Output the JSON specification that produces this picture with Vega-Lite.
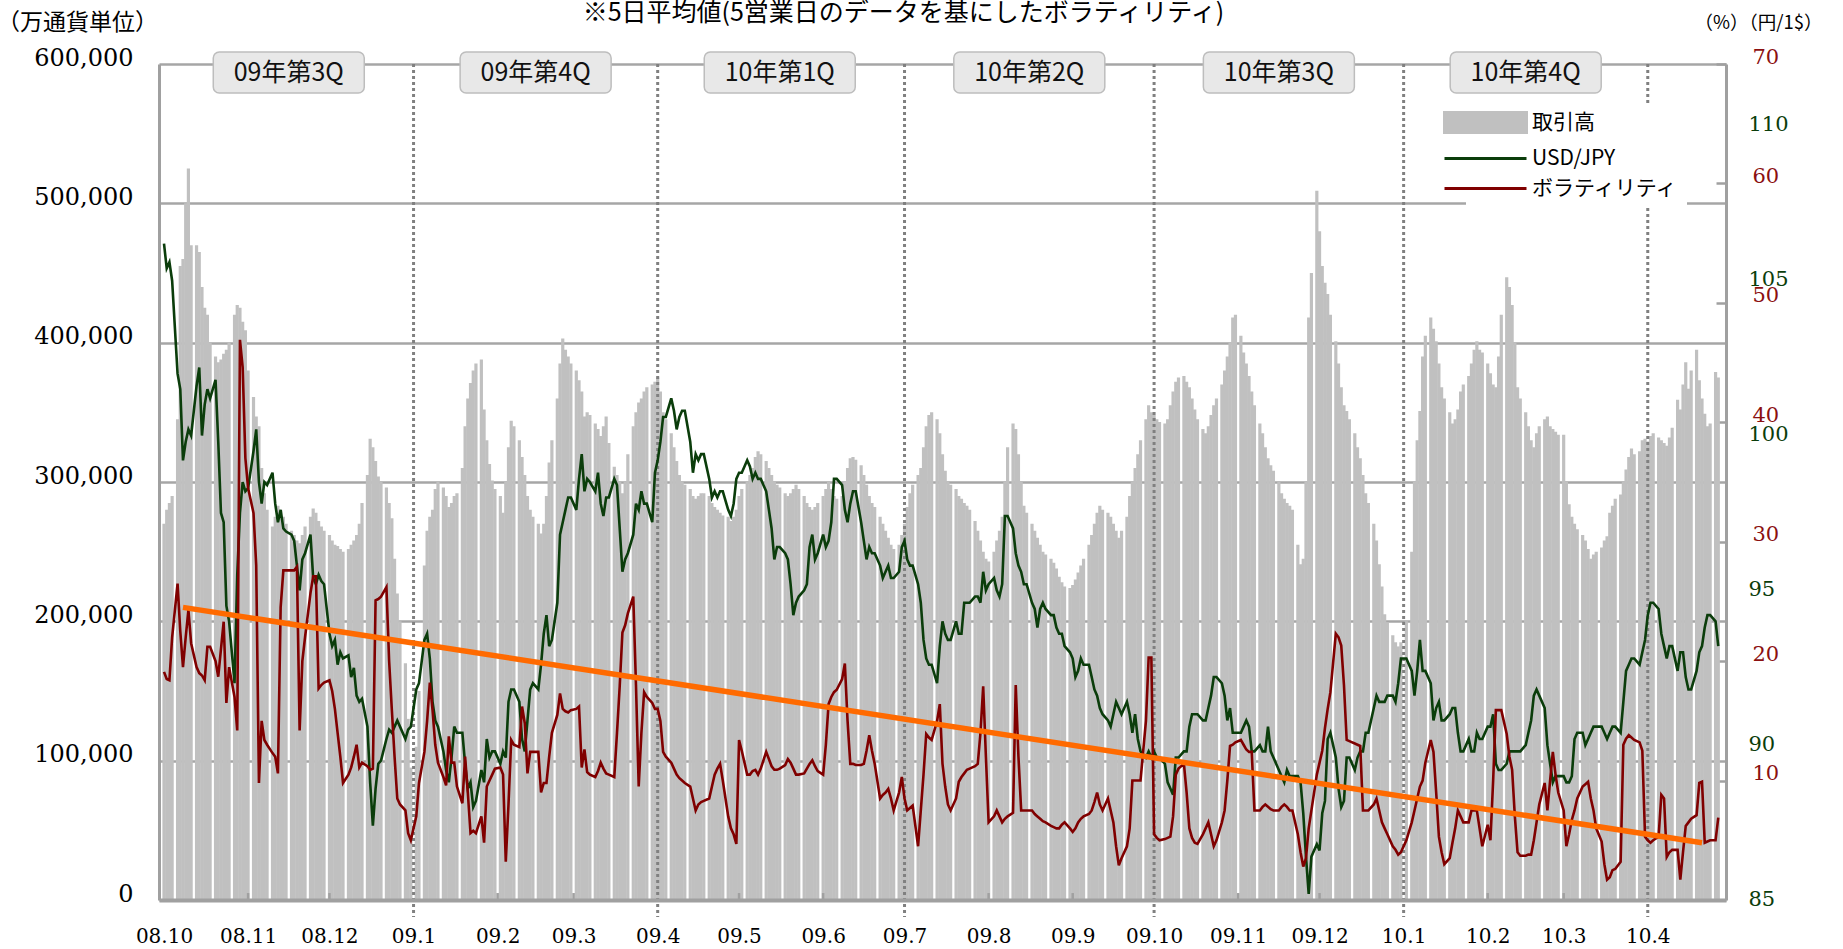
{
"$schema": "https://vega.github.io/schema/vega-lite/v6.json",
"width": 1567, "height": 836,
"autosize": {"type": "none"},
"padding": {"left": 159, "top": 64, "right": 117, "bottom": 49},
"background": "white",
"title": {"text": "※5日平均値(5営業日のデータを基にしたボラティリティ)", "anchor": "middle", "frame": "group", "offset": -15, "dx": -39, "font": "Noto Sans CJK JP", "fontSize": 25, "fontWeight": "normal", "color": "#000000"},
"config": {"view": {"stroke": null}},
"datasets": {
"quarters": [
{"q":"09年第3Q","m":"2008-11-16"},{"q":"09年第4Q","m":"2009-02-15"},{"q":"10年第1Q","m":"2009-05-16"},{"q":"10年第2Q","m":"2009-08-16"},{"q":"10年第3Q","m":"2009-11-16"},{"q":"10年第4Q","m":"2010-02-15"}],
"qlines": [{"d":"2009-01-01"},{"d":"2009-04-01"},{"d":"2009-07-01"},{"d":"2009-10-01"},{"d":"2010-01-01"},{"d":"2010-04-01"}],
"mticks": [{"d":"2008-11-01"},{"d":"2008-12-01"},{"d":"2009-02-01"},{"d":"2009-03-01"},{"d":"2009-05-01"},{"d":"2009-06-01"},{"d":"2009-08-01"},{"d":"2009-09-01"},{"d":"2009-11-01"},{"d":"2009-12-01"},{"d":"2010-02-01"},{"d":"2010-03-01"}],
"trend": [{"d":"2008-10-08","r":24.5},{"d":"2010-04-21","r":4.8}],
"main": [
{"d":"2008-10-01","v":270000,"u":106.2,"r":19.1},
{"d":"2008-10-02","v":280000,"u":105.4,"r":18.5},
{"d":"2008-10-03","v":285000,"u":105.6,"r":18.4},
{"d":"2008-10-04","v":290000,"u":105.0,"r":22.0},
{"d":"2008-10-06","v":345000,"u":102.0,"r":26.5},
{"d":"2008-10-07","v":455000,"u":101.5,"r":22.5},
{"d":"2008-10-08","v":460000,"u":99.2,"r":19.5},
{"d":"2008-10-09","v":500000,"u":99.8,"r":22.0},
{"d":"2008-10-10","v":525000,"u":100.2,"r":24.3},
{"d":"2008-10-11","v":470000,"u":100.0,"r":21.5},
{"d":"2008-10-13","v":470000,"u":101.6,"r":19.5},
{"d":"2008-10-14","v":465000,"u":102.2,"r":19.0},
{"d":"2008-10-15","v":440000,"u":100.0,"r":18.8},
{"d":"2008-10-16","v":425000,"u":101.0,"r":18.4},
{"d":"2008-10-17","v":420000,"u":101.5,"r":21.2},
{"d":"2008-10-18","v":400000,"u":101.2,"r":21.2},
{"d":"2008-10-20","v":390000,"u":101.8,"r":20.0},
{"d":"2008-10-21","v":386000,"u":99.8,"r":18.7},
{"d":"2008-10-22","v":388000,"u":97.5,"r":21.0},
{"d":"2008-10-23","v":392000,"u":97.2,"r":23.3},
{"d":"2008-10-24","v":395000,"u":94.5,"r":16.5},
{"d":"2008-10-25","v":400000,"u":94.0,"r":19.5},
{"d":"2008-10-27","v":420000,"u":92.0,"r":17.0},
{"d":"2008-10-28","v":427000,"u":95.5,"r":14.2},
{"d":"2008-10-29","v":425000,"u":97.5,"r":46.9},
{"d":"2008-10-30","v":415000,"u":98.5,"r":44.6},
{"d":"2008-10-31","v":409000,"u":98.2,"r":37.0},
{"d":"2008-11-01","v":380000,"u":98.3,"r":34.5},
{"d":"2008-11-03","v":361000,"u":99.5,"r":32.4},
{"d":"2008-11-04","v":347000,"u":100.2,"r":28.0},
{"d":"2008-11-05","v":340000,"u":98.5,"r":9.8},
{"d":"2008-11-06","v":310000,"u":97.8,"r":15.0},
{"d":"2008-11-07","v":292000,"u":98.5,"r":13.4},
{"d":"2008-11-08","v":280000,"u":98.4,"r":13.0},
{"d":"2008-11-10","v":268000,"u":98.8,"r":12.3},
{"d":"2008-11-11","v":275000,"u":97.8,"r":12.0},
{"d":"2008-11-12","v":283000,"u":97.2,"r":10.6},
{"d":"2008-11-13","v":280000,"u":97.6,"r":24.5},
{"d":"2008-11-14","v":275000,"u":97.0,"r":27.6},
{"d":"2008-11-15","v":270000,"u":96.9,"r":27.6},
{"d":"2008-11-17","v":265000,"u":96.8,"r":27.6},
{"d":"2008-11-18","v":262000,"u":96.6,"r":27.6},
{"d":"2008-11-19","v":258000,"u":95.8,"r":27.9},
{"d":"2008-11-20","v":256000,"u":95.0,"r":14.2},
{"d":"2008-11-21","v":262000,"u":96.0,"r":20.0},
{"d":"2008-11-22","v":268000,"u":96.2,"r":22.0},
{"d":"2008-11-24","v":275000,"u":96.8,"r":25.7},
{"d":"2008-11-25","v":281000,"u":95.4,"r":27.1},
{"d":"2008-11-26","v":278000,"u":95.2,"r":27.1},
{"d":"2008-11-27","v":272000,"u":95.5,"r":17.7},
{"d":"2008-11-28","v":268000,"u":95.3,"r":18.0},
{"d":"2008-11-29","v":265000,"u":95.2,"r":18.2},
{"d":"2008-12-01","v":262000,"u":93.6,"r":18.4},
{"d":"2008-12-02","v":258000,"u":93.2,"r":17.5},
{"d":"2008-12-03","v":255000,"u":93.4,"r":16.0},
{"d":"2008-12-04","v":254000,"u":92.6,"r":14.0},
{"d":"2008-12-05","v":252000,"u":93.0,"r":12.0},
{"d":"2008-12-06","v":250000,"u":92.8,"r":9.8},
{"d":"2008-12-08","v":252000,"u":92.9,"r":10.5},
{"d":"2008-12-09","v":255000,"u":92.2,"r":11.1},
{"d":"2008-12-10","v":258000,"u":92.5,"r":12.0},
{"d":"2008-12-11","v":262000,"u":91.6,"r":13.0},
{"d":"2008-12-12","v":270000,"u":91.4,"r":11.1},
{"d":"2008-12-13","v":285000,"u":91.5,"r":11.5},
{"d":"2008-12-15","v":305000,"u":90.6,"r":11.2},
{"d":"2008-12-16","v":331000,"u":88.8,"r":10.9},
{"d":"2008-12-17","v":325000,"u":87.4,"r":11.0},
{"d":"2008-12-18","v":315000,"u":88.6,"r":25.1},
{"d":"2008-12-19","v":304000,"u":89.4,"r":25.2},
{"d":"2008-12-20","v":300000,"u":89.5,"r":25.4},
{"d":"2008-12-22","v":296000,"u":90.2,"r":26.2},
{"d":"2008-12-23","v":285000,"u":90.5,"r":20.0},
{"d":"2008-12-24","v":274000,"u":90.4,"r":15.9},
{"d":"2008-12-25","v":245000,"u":90.6,"r":12.0},
{"d":"2008-12-26","v":220000,"u":90.8,"r":8.5},
{"d":"2008-12-27","v":200000,"u":90.6,"r":8.0},
{"d":"2008-12-29","v":170000,"u":90.2,"r":7.5},
{"d":"2008-12-30","v":130000,"u":90.5,"r":5.6},
{"d":"2008-12-31","v":95000,"u":90.6,"r":5.0},
{"d":"2009-01-02","v":110000,"u":91.8,"r":7.0},
{"d":"2009-01-03","v":150000,"u":92.0,"r":9.8},
{"d":"2009-01-05","v":240000,"u":93.4,"r":12.4},
{"d":"2009-01-06","v":265000,"u":93.6,"r":15.0},
{"d":"2009-01-07","v":275000,"u":92.8,"r":18.2},
{"d":"2009-01-08","v":280000,"u":91.4,"r":15.9},
{"d":"2009-01-09","v":295000,"u":90.8,"r":13.0},
{"d":"2009-01-10","v":300000,"u":90.6,"r":11.5},
{"d":"2009-01-12","v":296000,"u":89.8,"r":10.3},
{"d":"2009-01-13","v":290000,"u":89.2,"r":9.6},
{"d":"2009-01-14","v":282000,"u":88.8,"r":13.7},
{"d":"2009-01-15","v":285000,"u":89.6,"r":11.5},
{"d":"2009-01-16","v":290000,"u":90.6,"r":11.5},
{"d":"2009-01-17","v":292000,"u":90.4,"r":9.5},
{"d":"2009-01-19","v":310000,"u":90.4,"r":8.1},
{"d":"2009-01-20","v":340000,"u":89.4,"r":12.0},
{"d":"2009-01-21","v":360000,"u":88.6,"r":9.0},
{"d":"2009-01-22","v":371000,"u":88.8,"r":5.6},
{"d":"2009-01-23","v":380000,"u":88.0,"r":5.8},
{"d":"2009-01-24","v":385000,"u":88.2,"r":5.6},
{"d":"2009-01-26","v":388000,"u":89.2,"r":7.0},
{"d":"2009-01-27","v":352000,"u":88.8,"r":4.8},
{"d":"2009-01-28","v":330000,"u":90.2,"r":9.5},
{"d":"2009-01-29","v":313000,"u":89.6,"r":10.0},
{"d":"2009-01-30","v":301000,"u":89.8,"r":10.5},
{"d":"2009-01-31","v":295000,"u":89.8,"r":11.0},
{"d":"2009-02-02","v":290000,"u":89.4,"r":11.1},
{"d":"2009-02-03","v":278000,"u":89.8,"r":10.5},
{"d":"2009-02-04","v":300000,"u":89.6,"r":3.2},
{"d":"2009-02-05","v":325000,"u":91.4,"r":8.0},
{"d":"2009-02-06","v":344000,"u":91.8,"r":13.4},
{"d":"2009-02-07","v":340000,"u":91.8,"r":13.0},
{"d":"2009-02-09","v":330000,"u":91.4,"r":12.8},
{"d":"2009-02-10","v":318000,"u":90.2,"r":16.2},
{"d":"2009-02-11","v":305000,"u":89.8,"r":14.8},
{"d":"2009-02-12","v":290000,"u":90.8,"r":10.6},
{"d":"2009-02-13","v":280000,"u":91.8,"r":12.4},
{"d":"2009-02-14","v":275000,"u":92.0,"r":12.4},
{"d":"2009-02-16","v":270000,"u":91.8,"r":12.4},
{"d":"2009-02-17","v":263000,"u":92.6,"r":9.0},
{"d":"2009-02-18","v":270000,"u":93.6,"r":9.8},
{"d":"2009-02-19","v":290000,"u":94.2,"r":9.8},
{"d":"2009-02-20","v":314000,"u":93.2,"r":12.0},
{"d":"2009-02-21","v":330000,"u":93.4,"r":14.0},
{"d":"2009-02-23","v":360000,"u":94.6,"r":15.5},
{"d":"2009-02-24","v":385000,"u":96.8,"r":17.3},
{"d":"2009-02-25","v":403000,"u":97.2,"r":16.0},
{"d":"2009-02-26","v":395000,"u":97.6,"r":15.8},
{"d":"2009-02-27","v":390000,"u":98.0,"r":15.7},
{"d":"2009-02-28","v":385000,"u":98.0,"r":15.9},
{"d":"2009-03-02","v":380000,"u":97.6,"r":16.0},
{"d":"2009-03-03","v":373000,"u":98.6,"r":16.2},
{"d":"2009-03-04","v":365000,"u":99.4,"r":11.1},
{"d":"2009-03-05","v":347000,"u":98.2,"r":12.6},
{"d":"2009-03-06","v":350000,"u":98.6,"r":10.7},
{"d":"2009-03-07","v":348000,"u":98.5,"r":10.5},
{"d":"2009-03-09","v":342000,"u":98.2,"r":10.3},
{"d":"2009-03-10","v":338000,"u":98.8,"r":10.8},
{"d":"2009-03-11","v":333000,"u":97.8,"r":11.5},
{"d":"2009-03-12","v":340000,"u":97.4,"r":11.0},
{"d":"2009-03-13","v":347000,"u":98.0,"r":10.6},
{"d":"2009-03-14","v":328000,"u":98.0,"r":10.5},
{"d":"2009-03-16","v":311000,"u":98.6,"r":10.3},
{"d":"2009-03-17","v":305000,"u":98.4,"r":14.0},
{"d":"2009-03-18","v":300000,"u":97.0,"r":17.9},
{"d":"2009-03-19","v":292000,"u":95.6,"r":22.4},
{"d":"2009-03-20","v":300000,"u":96.0,"r":23.0},
{"d":"2009-03-21","v":320000,"u":96.2,"r":24.0},
{"d":"2009-03-23","v":340000,"u":96.8,"r":25.4},
{"d":"2009-03-24","v":350000,"u":97.8,"r":18.0},
{"d":"2009-03-25","v":357000,"u":97.6,"r":9.5},
{"d":"2009-03-26","v":360000,"u":98.2,"r":14.0},
{"d":"2009-03-27","v":365000,"u":97.8,"r":17.4},
{"d":"2009-03-28","v":368000,"u":97.8,"r":17.0},
{"d":"2009-03-30","v":370000,"u":97.2,"r":16.5},
{"d":"2009-03-31","v":372000,"u":98.8,"r":16.0},
{"d":"2009-04-01","v":375000,"u":99.2,"r":16.0},
{"d":"2009-04-02","v":365000,"u":99.8,"r":15.0},
{"d":"2009-04-03","v":350000,"u":100.6,"r":12.4},
{"d":"2009-04-04","v":345000,"u":100.6,"r":12.0},
{"d":"2009-04-06","v":335000,"u":101.2,"r":11.5},
{"d":"2009-04-07","v":325000,"u":100.8,"r":11.0},
{"d":"2009-04-08","v":315000,"u":100.2,"r":10.5},
{"d":"2009-04-09","v":305000,"u":100.6,"r":10.2},
{"d":"2009-04-10","v":300000,"u":100.8,"r":10.0},
{"d":"2009-04-11","v":298000,"u":100.8,"r":9.8},
{"d":"2009-04-13","v":295000,"u":99.8,"r":9.5},
{"d":"2009-04-14","v":290000,"u":98.8,"r":8.5},
{"d":"2009-04-15","v":288000,"u":99.4,"r":7.5},
{"d":"2009-04-16","v":290000,"u":99.2,"r":8.0},
{"d":"2009-04-17","v":292000,"u":99.4,"r":8.2},
{"d":"2009-04-18","v":292000,"u":99.4,"r":8.3},
{"d":"2009-04-20","v":290000,"u":98.6,"r":8.5},
{"d":"2009-04-21","v":285000,"u":98.0,"r":9.5},
{"d":"2009-04-22","v":282000,"u":98.2,"r":10.5},
{"d":"2009-04-23","v":280000,"u":98.0,"r":11.0},
{"d":"2009-04-24","v":278000,"u":98.2,"r":11.4},
{"d":"2009-04-25","v":276000,"u":98.2,"r":10.0},
{"d":"2009-04-27","v":275000,"u":97.6,"r":7.0},
{"d":"2009-04-28","v":272000,"u":97.4,"r":6.0},
{"d":"2009-04-29","v":275000,"u":97.8,"r":5.5},
{"d":"2009-04-30","v":280000,"u":98.6,"r":4.7},
{"d":"2009-05-01","v":290000,"u":98.8,"r":13.4},
{"d":"2009-05-02","v":295000,"u":98.8,"r":12.5},
{"d":"2009-05-04","v":300000,"u":99.2,"r":10.5},
{"d":"2009-05-05","v":305000,"u":99.0,"r":10.5},
{"d":"2009-05-06","v":310000,"u":98.6,"r":10.8},
{"d":"2009-05-07","v":318000,"u":98.8,"r":10.9},
{"d":"2009-05-08","v":322000,"u":98.6,"r":10.5},
{"d":"2009-05-09","v":320000,"u":98.6,"r":11.0},
{"d":"2009-05-11","v":315000,"u":98.2,"r":12.4},
{"d":"2009-05-12","v":310000,"u":97.6,"r":11.8},
{"d":"2009-05-13","v":305000,"u":97.0,"r":11.2},
{"d":"2009-05-14","v":300000,"u":96.0,"r":10.9},
{"d":"2009-05-15","v":298000,"u":96.4,"r":10.9},
{"d":"2009-05-16","v":296000,"u":96.4,"r":11.0},
{"d":"2009-05-18","v":292000,"u":96.2,"r":11.3},
{"d":"2009-05-19","v":290000,"u":96.0,"r":11.8},
{"d":"2009-05-20","v":292000,"u":95.2,"r":11.5},
{"d":"2009-05-21","v":295000,"u":94.2,"r":11.0},
{"d":"2009-05-22","v":298000,"u":94.6,"r":10.5},
{"d":"2009-05-23","v":295000,"u":94.8,"r":10.5},
{"d":"2009-05-25","v":290000,"u":95.0,"r":10.6},
{"d":"2009-05-26","v":285000,"u":95.2,"r":11.0},
{"d":"2009-05-27","v":282000,"u":96.4,"r":11.4},
{"d":"2009-05-28","v":280000,"u":96.8,"r":11.7},
{"d":"2009-05-29","v":282000,"u":96.0,"r":11.2},
{"d":"2009-05-30","v":285000,"u":96.2,"r":10.8},
{"d":"2009-06-01","v":290000,"u":96.8,"r":10.5},
{"d":"2009-06-02","v":295000,"u":96.4,"r":13.0},
{"d":"2009-06-03","v":300000,"u":96.6,"r":16.4},
{"d":"2009-06-04","v":295000,"u":97.2,"r":17.0},
{"d":"2009-06-05","v":290000,"u":98.6,"r":17.4},
{"d":"2009-06-06","v":288000,"u":98.6,"r":17.6},
{"d":"2009-06-08","v":290000,"u":98.4,"r":18.5},
{"d":"2009-06-09","v":300000,"u":97.6,"r":19.8},
{"d":"2009-06-10","v":310000,"u":97.2,"r":15.0},
{"d":"2009-06-11","v":317000,"u":97.8,"r":11.4},
{"d":"2009-06-12","v":318000,"u":98.2,"r":11.4},
{"d":"2009-06-13","v":316000,"u":98.2,"r":11.3},
{"d":"2009-06-15","v":312000,"u":97.2,"r":11.3},
{"d":"2009-06-16","v":305000,"u":96.6,"r":11.4},
{"d":"2009-06-17","v":298000,"u":96.0,"r":12.5},
{"d":"2009-06-18","v":290000,"u":96.4,"r":13.8},
{"d":"2009-06-19","v":285000,"u":96.2,"r":12.5},
{"d":"2009-06-20","v":282000,"u":96.2,"r":11.4},
{"d":"2009-06-22","v":275000,"u":95.8,"r":8.5},
{"d":"2009-06-23","v":270000,"u":95.4,"r":8.8},
{"d":"2009-06-24","v":265000,"u":95.6,"r":9.0},
{"d":"2009-06-25","v":260000,"u":95.8,"r":9.3},
{"d":"2009-06-26","v":255000,"u":95.4,"r":8.5},
{"d":"2009-06-27","v":252000,"u":95.4,"r":7.5},
{"d":"2009-06-29","v":255000,"u":95.6,"r":9.0},
{"d":"2009-06-30","v":262000,"u":96.4,"r":10.3},
{"d":"2009-07-01","v":270000,"u":96.6,"r":8.5},
{"d":"2009-07-02","v":282000,"u":96.0,"r":7.5},
{"d":"2009-07-03","v":292000,"u":95.8,"r":7.7},
{"d":"2009-07-04","v":298000,"u":95.8,"r":7.9},
{"d":"2009-07-06","v":305000,"u":95.2,"r":4.5},
{"d":"2009-07-07","v":310000,"u":94.6,"r":7.5},
{"d":"2009-07-08","v":325000,"u":93.4,"r":10.5},
{"d":"2009-07-09","v":340000,"u":92.8,"r":13.9},
{"d":"2009-07-10","v":348000,"u":92.6,"r":13.6},
{"d":"2009-07-11","v":350000,"u":92.6,"r":13.4},
{"d":"2009-07-13","v":345000,"u":92.0,"r":15.0},
{"d":"2009-07-14","v":335000,"u":93.2,"r":16.4},
{"d":"2009-07-15","v":320000,"u":94.0,"r":11.4},
{"d":"2009-07-16","v":308000,"u":93.6,"r":9.5},
{"d":"2009-07-17","v":300000,"u":93.4,"r":8.0},
{"d":"2009-07-18","v":298000,"u":93.4,"r":7.5},
{"d":"2009-07-20","v":295000,"u":94.0,"r":8.5},
{"d":"2009-07-21","v":290000,"u":93.6,"r":9.9},
{"d":"2009-07-22","v":288000,"u":93.6,"r":10.3},
{"d":"2009-07-23","v":285000,"u":94.6,"r":10.6},
{"d":"2009-07-24","v":283000,"u":94.6,"r":10.9},
{"d":"2009-07-25","v":280000,"u":94.6,"r":11.0},
{"d":"2009-07-27","v":272000,"u":94.8,"r":11.2},
{"d":"2009-07-28","v":265000,"u":94.8,"r":11.4},
{"d":"2009-07-29","v":258000,"u":94.6,"r":14.0},
{"d":"2009-07-30","v":250000,"u":95.6,"r":17.9},
{"d":"2009-07-31","v":245000,"u":95.0,"r":12.0},
{"d":"2009-08-01","v":243000,"u":95.2,"r":6.5},
{"d":"2009-08-03","v":250000,"u":95.4,"r":7.0},
{"d":"2009-08-04","v":258000,"u":95.0,"r":7.5},
{"d":"2009-08-05","v":265000,"u":94.8,"r":7.0},
{"d":"2009-08-06","v":275000,"u":95.2,"r":6.5},
{"d":"2009-08-07","v":300000,"u":97.4,"r":6.8},
{"d":"2009-08-08","v":325000,"u":97.4,"r":7.0},
{"d":"2009-08-10","v":342000,"u":97.0,"r":7.3},
{"d":"2009-08-11","v":338000,"u":96.2,"r":18.0},
{"d":"2009-08-12","v":320000,"u":95.8,"r":12.0},
{"d":"2009-08-13","v":300000,"u":95.6,"r":7.5},
{"d":"2009-08-14","v":283000,"u":95.2,"r":7.5},
{"d":"2009-08-15","v":278000,"u":95.2,"r":7.5},
{"d":"2009-08-17","v":270000,"u":94.6,"r":7.5},
{"d":"2009-08-18","v":265000,"u":94.4,"r":7.2},
{"d":"2009-08-19","v":260000,"u":93.8,"r":7.0},
{"d":"2009-08-20","v":255000,"u":94.4,"r":6.8},
{"d":"2009-08-21","v":250000,"u":94.6,"r":6.6},
{"d":"2009-08-22","v":248000,"u":94.4,"r":6.5},
{"d":"2009-08-24","v":245000,"u":94.2,"r":6.2},
{"d":"2009-08-25","v":242000,"u":94.2,"r":6.1},
{"d":"2009-08-26","v":238000,"u":93.8,"r":6.0},
{"d":"2009-08-27","v":232000,"u":93.6,"r":6.0},
{"d":"2009-08-28","v":228000,"u":93.6,"r":6.3},
{"d":"2009-08-29","v":225000,"u":93.2,"r":6.5},
{"d":"2009-08-31","v":224000,"u":93.0,"r":6.0},
{"d":"2009-09-01","v":226000,"u":92.8,"r":5.7},
{"d":"2009-09-02","v":230000,"u":92.2,"r":6.0},
{"d":"2009-09-03","v":235000,"u":92.4,"r":6.5},
{"d":"2009-09-04","v":240000,"u":92.8,"r":6.8},
{"d":"2009-09-05","v":245000,"u":92.6,"r":7.0},
{"d":"2009-09-07","v":255000,"u":92.6,"r":7.2},
{"d":"2009-09-08","v":262000,"u":92.2,"r":7.5},
{"d":"2009-09-09","v":270000,"u":91.8,"r":8.2},
{"d":"2009-09-10","v":278000,"u":91.6,"r":9.0},
{"d":"2009-09-11","v":283000,"u":91.2,"r":8.0},
{"d":"2009-09-12","v":280000,"u":91.0,"r":7.5},
{"d":"2009-09-14","v":278000,"u":90.8,"r":8.5},
{"d":"2009-09-15","v":275000,"u":90.6,"r":7.5},
{"d":"2009-09-16","v":270000,"u":91.0,"r":6.5},
{"d":"2009-09-17","v":265000,"u":91.4,"r":4.5},
{"d":"2009-09-18","v":260000,"u":91.2,"r":2.9},
{"d":"2009-09-19","v":265000,"u":91.0,"r":3.5},
{"d":"2009-09-21","v":275000,"u":91.4,"r":4.5},
{"d":"2009-09-22","v":290000,"u":91.0,"r":6.0},
{"d":"2009-09-23","v":300000,"u":90.4,"r":10.0},
{"d":"2009-09-24","v":310000,"u":91.0,"r":10.0},
{"d":"2009-09-25","v":320000,"u":90.2,"r":10.0},
{"d":"2009-09-26","v":330000,"u":89.8,"r":10.0},
{"d":"2009-09-28","v":345000,"u":89.6,"r":15.0},
{"d":"2009-09-29","v":355000,"u":89.8,"r":20.3},
{"d":"2009-09-30","v":350000,"u":89.6,"r":20.3},
{"d":"2009-10-01","v":348000,"u":89.8,"r":5.5},
{"d":"2009-10-02","v":345000,"u":89.6,"r":5.2},
{"d":"2009-10-03","v":343000,"u":89.6,"r":5.0},
{"d":"2009-10-05","v":342000,"u":89.4,"r":5.1},
{"d":"2009-10-06","v":345000,"u":88.8,"r":5.2},
{"d":"2009-10-07","v":355000,"u":88.6,"r":5.3},
{"d":"2009-10-08","v":365000,"u":88.4,"r":7.0},
{"d":"2009-10-09","v":372000,"u":89.6,"r":10.5},
{"d":"2009-10-10","v":375000,"u":89.6,"r":11.0},
{"d":"2009-10-12","v":376000,"u":89.8,"r":11.4},
{"d":"2009-10-13","v":372000,"u":89.8,"r":9.0},
{"d":"2009-10-14","v":368000,"u":90.6,"r":6.0},
{"d":"2009-10-15","v":360000,"u":91.0,"r":5.2},
{"d":"2009-10-16","v":352000,"u":91.0,"r":4.8},
{"d":"2009-10-17","v":345000,"u":91.0,"r":4.7},
{"d":"2009-10-19","v":338000,"u":90.8,"r":5.5},
{"d":"2009-10-20","v":335000,"u":90.8,"r":6.0},
{"d":"2009-10-21","v":340000,"u":91.2,"r":6.5},
{"d":"2009-10-22","v":348000,"u":91.6,"r":5.5},
{"d":"2009-10-23","v":355000,"u":92.2,"r":4.5},
{"d":"2009-10-24","v":360000,"u":92.2,"r":5.0},
{"d":"2009-10-26","v":370000,"u":92.0,"r":6.5},
{"d":"2009-10-27","v":380000,"u":91.6,"r":7.5},
{"d":"2009-10-28","v":390000,"u":90.8,"r":10.0},
{"d":"2009-10-29","v":400000,"u":91.2,"r":12.9},
{"d":"2009-10-30","v":418000,"u":90.4,"r":13.0},
{"d":"2009-10-31","v":420000,"u":90.4,"r":13.2},
{"d":"2009-11-02","v":405000,"u":90.4,"r":13.4},
{"d":"2009-11-03","v":393000,"u":90.6,"r":13.0},
{"d":"2009-11-04","v":385000,"u":90.8,"r":12.6},
{"d":"2009-11-05","v":376000,"u":90.6,"r":12.4},
{"d":"2009-11-06","v":365000,"u":89.8,"r":12.4},
{"d":"2009-11-07","v":355000,"u":89.8,"r":7.5},
{"d":"2009-11-09","v":342000,"u":90.0,"r":7.5},
{"d":"2009-11-10","v":335000,"u":89.8,"r":7.8},
{"d":"2009-11-11","v":325000,"u":89.8,"r":8.0},
{"d":"2009-11-12","v":317000,"u":90.6,"r":7.8},
{"d":"2009-11-13","v":312000,"u":89.8,"r":7.6},
{"d":"2009-11-14","v":308000,"u":89.6,"r":7.5},
{"d":"2009-11-16","v":300000,"u":89.2,"r":7.5},
{"d":"2009-11-17","v":292000,"u":89.0,"r":7.8},
{"d":"2009-11-18","v":288000,"u":88.8,"r":8.0},
{"d":"2009-11-19","v":285000,"u":89.2,"r":7.8},
{"d":"2009-11-20","v":283000,"u":89.0,"r":7.5},
{"d":"2009-11-21","v":280000,"u":89.0,"r":7.5},
{"d":"2009-11-23","v":255000,"u":89.0,"r":5.5},
{"d":"2009-11-24","v":241000,"u":88.8,"r":4.0},
{"d":"2009-11-25","v":245000,"u":87.8,"r":2.8},
{"d":"2009-11-26","v":300000,"u":86.4,"r":3.5},
{"d":"2009-11-27","v":418000,"u":85.2,"r":6.0},
{"d":"2009-11-28","v":450000,"u":86.4,"r":7.5},
{"d":"2009-11-30","v":509000,"u":86.8,"r":10.5},
{"d":"2009-12-01","v":480000,"u":86.6,"r":11.5},
{"d":"2009-12-02","v":455000,"u":87.8,"r":12.5},
{"d":"2009-12-03","v":443000,"u":88.2,"r":14.4},
{"d":"2009-12-04","v":435000,"u":90.2,"r":16.0},
{"d":"2009-12-05","v":420000,"u":90.4,"r":17.4},
{"d":"2009-12-07","v":401000,"u":89.6,"r":22.3},
{"d":"2009-12-08","v":385000,"u":88.6,"r":22.0},
{"d":"2009-12-09","v":368000,"u":88.0,"r":21.3},
{"d":"2009-12-10","v":355000,"u":88.2,"r":18.0},
{"d":"2009-12-11","v":351000,"u":89.6,"r":13.4},
{"d":"2009-12-12","v":345000,"u":89.6,"r":13.3},
{"d":"2009-12-14","v":335000,"u":89.2,"r":13.1},
{"d":"2009-12-15","v":325000,"u":89.6,"r":13.0},
{"d":"2009-12-16","v":317000,"u":89.8,"r":12.9},
{"d":"2009-12-17","v":305000,"u":89.8,"r":7.5},
{"d":"2009-12-18","v":292000,"u":90.4,"r":7.5},
{"d":"2009-12-19","v":285000,"u":90.4,"r":7.5},
{"d":"2009-12-21","v":270000,"u":91.2,"r":8.0},
{"d":"2009-12-22","v":258000,"u":91.6,"r":8.5},
{"d":"2009-12-23","v":241000,"u":91.4,"r":7.5},
{"d":"2009-12-24","v":225000,"u":91.4,"r":6.5},
{"d":"2009-12-25","v":205000,"u":91.4,"r":6.0},
{"d":"2009-12-26","v":199000,"u":91.6,"r":5.5},
{"d":"2009-12-28","v":190000,"u":91.6,"r":4.5},
{"d":"2009-12-29","v":185000,"u":91.4,"r":4.2},
{"d":"2009-12-30","v":182000,"u":92.0,"r":3.8},
{"d":"2009-12-31","v":185000,"u":92.8,"r":4.0},
{"d":"2010-01-02","v":200000,"u":92.8,"r":5.0},
{"d":"2010-01-04","v":250000,"u":92.4,"r":6.5},
{"d":"2010-01-05","v":300000,"u":91.6,"r":7.5},
{"d":"2010-01-06","v":330000,"u":92.4,"r":8.5},
{"d":"2010-01-07","v":351000,"u":93.4,"r":9.5},
{"d":"2010-01-08","v":390000,"u":92.4,"r":10.0},
{"d":"2010-01-09","v":405000,"u":92.4,"r":11.5},
{"d":"2010-01-11","v":418000,"u":92.0,"r":13.4},
{"d":"2010-01-12","v":410000,"u":90.8,"r":12.4},
{"d":"2010-01-13","v":401000,"u":91.2,"r":9.0},
{"d":"2010-01-14","v":385000,"u":91.4,"r":5.3},
{"d":"2010-01-15","v":368000,"u":90.8,"r":4.0},
{"d":"2010-01-16","v":360000,"u":90.8,"r":3.0},
{"d":"2010-01-18","v":350000,"u":91.0,"r":3.5},
{"d":"2010-01-19","v":342000,"u":91.2,"r":4.8},
{"d":"2010-01-20","v":345000,"u":91.2,"r":6.0},
{"d":"2010-01-21","v":352000,"u":90.4,"r":7.5},
{"d":"2010-01-22","v":365000,"u":89.8,"r":7.0},
{"d":"2010-01-23","v":370000,"u":89.8,"r":6.5},
{"d":"2010-01-25","v":376000,"u":90.2,"r":6.5},
{"d":"2010-01-26","v":385000,"u":89.8,"r":7.5},
{"d":"2010-01-27","v":395000,"u":89.8,"r":7.5},
{"d":"2010-01-28","v":401000,"u":90.4,"r":7.5},
{"d":"2010-01-29","v":395000,"u":90.2,"r":6.0},
{"d":"2010-01-30","v":393000,"u":90.2,"r":4.5},
{"d":"2010-02-01","v":385000,"u":90.6,"r":6.3},
{"d":"2010-02-02","v":378000,"u":90.6,"r":5.0},
{"d":"2010-02-03","v":370000,"u":91.0,"r":10.0},
{"d":"2010-02-04","v":368000,"u":89.4,"r":15.9},
{"d":"2010-02-05","v":390000,"u":89.2,"r":15.9},
{"d":"2010-02-06","v":420000,"u":89.2,"r":15.9},
{"d":"2010-02-08","v":447000,"u":89.4,"r":13.9},
{"d":"2010-02-09","v":440000,"u":89.8,"r":12.0},
{"d":"2010-02-10","v":427000,"u":89.8,"r":10.9},
{"d":"2010-02-11","v":400000,"u":89.8,"r":7.0},
{"d":"2010-02-12","v":368000,"u":89.8,"r":4.0},
{"d":"2010-02-13","v":360000,"u":89.8,"r":3.7},
{"d":"2010-02-15","v":350000,"u":90.0,"r":3.7},
{"d":"2010-02-16","v":340000,"u":90.4,"r":3.8},
{"d":"2010-02-17","v":330000,"u":90.8,"r":3.8},
{"d":"2010-02-18","v":325000,"u":91.6,"r":5.0},
{"d":"2010-02-19","v":335000,"u":91.8,"r":6.5},
{"d":"2010-02-20","v":340000,"u":91.6,"r":8.0},
{"d":"2010-02-22","v":345000,"u":91.2,"r":9.8},
{"d":"2010-02-23","v":347000,"u":90.0,"r":7.5},
{"d":"2010-02-24","v":340000,"u":89.4,"r":10.0},
{"d":"2010-02-25","v":338000,"u":88.8,"r":12.4},
{"d":"2010-02-26","v":336000,"u":89.0,"r":10.5},
{"d":"2010-02-27","v":334000,"u":89.0,"r":9.0},
{"d":"2010-03-01","v":334000,"u":89.0,"r":7.5},
{"d":"2010-03-02","v":300000,"u":88.8,"r":4.5},
{"d":"2010-03-03","v":284000,"u":88.8,"r":5.5},
{"d":"2010-03-04","v":275000,"u":89.0,"r":6.7},
{"d":"2010-03-05","v":270000,"u":90.2,"r":7.5},
{"d":"2010-03-06","v":266000,"u":90.4,"r":8.5},
{"d":"2010-03-08","v":262000,"u":90.4,"r":9.5},
{"d":"2010-03-09","v":258000,"u":90.0,"r":9.7},
{"d":"2010-03-10","v":252000,"u":90.2,"r":9.9},
{"d":"2010-03-11","v":245000,"u":90.4,"r":8.5},
{"d":"2010-03-12","v":248000,"u":90.6,"r":7.5},
{"d":"2010-03-13","v":250000,"u":90.6,"r":6.0},
{"d":"2010-03-15","v":253000,"u":90.6,"r":4.9},
{"d":"2010-03-16","v":258000,"u":90.4,"r":3.0},
{"d":"2010-03-17","v":261000,"u":90.2,"r":1.7},
{"d":"2010-03-18","v":278000,"u":90.4,"r":1.9},
{"d":"2010-03-19","v":283000,"u":90.6,"r":2.5},
{"d":"2010-03-20","v":288000,"u":90.6,"r":2.6},
{"d":"2010-03-22","v":291000,"u":90.4,"r":3.2},
{"d":"2010-03-23","v":300000,"u":91.4,"r":13.0},
{"d":"2010-03-24","v":309000,"u":92.4,"r":13.5},
{"d":"2010-03-25","v":318000,"u":92.6,"r":13.8},
{"d":"2010-03-26","v":324000,"u":92.8,"r":13.6},
{"d":"2010-03-27","v":320000,"u":92.8,"r":13.4},
{"d":"2010-03-29","v":322000,"u":92.6,"r":13.2},
{"d":"2010-03-30","v":330000,"u":93.0,"r":12.5},
{"d":"2010-03-31","v":331000,"u":93.4,"r":5.3},
{"d":"2010-04-01","v":329000,"u":94.2,"r":5.0},
{"d":"2010-04-02","v":333000,"u":94.6,"r":4.8},
{"d":"2010-04-03","v":335000,"u":94.6,"r":5.0},
{"d":"2010-04-05","v":332000,"u":94.4,"r":5.3},
{"d":"2010-04-06","v":330000,"u":93.6,"r":8.8},
{"d":"2010-04-07","v":328000,"u":93.2,"r":8.5},
{"d":"2010-04-08","v":326000,"u":92.8,"r":3.6},
{"d":"2010-04-09","v":332000,"u":93.2,"r":4.0},
{"d":"2010-04-10","v":339000,"u":93.2,"r":4.2},
{"d":"2010-04-12","v":359000,"u":92.4,"r":4.2},
{"d":"2010-04-13","v":352000,"u":93.0,"r":1.7},
{"d":"2010-04-14","v":370000,"u":93.0,"r":4.0},
{"d":"2010-04-15","v":386000,"u":92.2,"r":6.2},
{"d":"2010-04-16","v":367000,"u":91.8,"r":6.5},
{"d":"2010-04-17","v":380000,"u":91.8,"r":6.8},
{"d":"2010-04-19","v":395000,"u":92.4,"r":7.1},
{"d":"2010-04-20","v":373000,"u":93.0,"r":9.8},
{"d":"2010-04-21","v":360000,"u":93.2,"r":9.9},
{"d":"2010-04-22","v":349000,"u":93.8,"r":4.8},
{"d":"2010-04-23","v":340000,"u":94.2,"r":4.9},
{"d":"2010-04-24","v":342000,"u":94.2,"r":5.0},
{"d":"2010-04-26","v":379000,"u":94.0,"r":5.0},
{"d":"2010-04-27","v":375000,"u":93.2,"r":6.9}
]},
"layer": [
{"layer": [
 {"data": {"name": "main"},
  "mark": {"type": "bar", "width": 3.2, "clip": true},
  "encoding": {
   "x": {"field": "d", "type": "temporal",
    "scale": {"type": "utc", "domain": [{"year":2008,"month":10,"date":1,"utc":true},{"year":2010,"month":4,"date":28,"utc":true}]},
    "axis": {"orient": "bottom", "values": [{"year":2008,"month":10,"date":1,"utc":true},{"year":2008,"month":11,"date":1,"utc":true},{"year":2008,"month":12,"date":1,"utc":true},{"year":2009,"month":1,"date":1,"utc":true},{"year":2009,"month":2,"date":1,"utc":true},{"year":2009,"month":3,"date":1,"utc":true},{"year":2009,"month":4,"date":1,"utc":true},{"year":2009,"month":5,"date":1,"utc":true},{"year":2009,"month":6,"date":1,"utc":true},{"year":2009,"month":7,"date":1,"utc":true},{"year":2009,"month":8,"date":1,"utc":true},{"year":2009,"month":9,"date":1,"utc":true},{"year":2009,"month":10,"date":1,"utc":true},{"year":2009,"month":11,"date":1,"utc":true},{"year":2009,"month":12,"date":1,"utc":true},{"year":2010,"month":1,"date":1,"utc":true},{"year":2010,"month":2,"date":1,"utc":true},{"year":2010,"month":3,"date":1,"utc":true},{"year":2010,"month":4,"date":1,"utc":true}],
     "format": "%y.%-m", "title": null, "labelFlush": false, "labelOverlap": false,
     "labelFont": "DejaVu Serif", "labelFontSize": 20, "labelColor": "#000000", "labelPadding": 26,
     "ticks": false, "domainColor": "#a0a0a0", "domainWidth": 4, "grid": false, "zindex": 1}},
   "y": {"field": "v", "type": "quantitative", "scale": {"domain": [0, 600000], "nice": false},
    "axis": {"values": [0,100000,200000,300000,400000,500000,600000], "format": ",d", "title": "（万通貨単位）", "titleAngle": 0, "titleX": -82, "titleY": -42, "titleAlign": "center", "titleBaseline": "middle", "titleFont": "Noto Sans CJK JP", "titleFontSize": 23, "titleFontWeight": "normal", "titleColor": "#000000",
     "ticks": false, "labelPadding": 26, "labelFont": "DejaVu Serif", "labelFontSize": 24, "labelColor": "#000000", "labelOffset": -6, "labelFlush": false, "labelOverlap": false,
     "domainColor": "#a0a0a0", "domainWidth": 3, "grid": true, "gridColor": "#a6a6a6", "gridWidth": 2.5}},
   "color": {"datum": "取引高", "type": "nominal",
    "scale": {"domain": ["取引高", "USD/JPY", "ボラティリティ"], "range": ["#c0c0c0", "#0b3d0b", "#800000"]},
    "legend": {"orient": "none", "legendX": 1307, "legendY": 39, "title": null, "fillColor": "white", "padding": 8,
     "labelFont": "Noto Sans CJK JP", "labelFontSize": 21, "labelColor": "#000000", "labelOffset": 35, "labelLimit": 300, "rowPadding": 8,
     "symbolSize": 400, "symbolStrokeWidth": 3,
     "encode": {"symbols": {"update": {
      "shape": {"signal": "datum.value === '取引高' ? 'M-4.1,-1H4.1V1H-4.1Z' : 'M-4.1,0H4.1'"},
      "fill": {"signal": "datum.value === '取引高' ? '#c0c0c0' : 'transparent'"},
      "stroke": {"signal": "datum.value === '取引高' ? 'transparent' : (datum.value === 'USD/JPY' ? '#0b3d0b' : '#800000')"},
      "strokeWidth": {"value": 3}, "size": {"value": 400}, "opacity": {"value": 1}}}}}}
  }},
 {"data": {"name": "mticks"},
  "mark": {"type": "rule", "color": "#a0a0a0", "strokeWidth": 2.5},
  "encoding": {
   "x": {"field": "d", "type": "temporal", "scale": {"type": "utc", "domain": [{"year":2008,"month":10,"date":1,"utc":true},{"year":2010,"month":4,"date":28,"utc":true}]}, "axis": {"title": null}},
   "y": {"datum": 0, "type": "quantitative", "scale": {"domain": [0, 600000], "nice": false}},
   "y2": {"datum": 5000}
  }},
 {"data": {"name": "qlines"},
  "mark": {"type": "rule", "color": "#808080", "strokeWidth": 3, "strokeDash": [3, 3]},
  "encoding": {
   "x": {"field": "d", "type": "temporal", "scale": {"type": "utc", "domain": [{"year":2008,"month":10,"date":1,"utc":true},{"year":2010,"month":4,"date":28,"utc":true}]}, "axis": {"title": null}},
   "y": {"datum": 600000, "type": "quantitative", "scale": {"domain": [0, 600000], "nice": false}},
   "y2": {"datum": -12200}
  }},
 {"data": {"name": "quarters"},
  "mark": {"type": "bar", "width": 151, "cornerRadius": 6, "fill": "#e8e8e8", "stroke": "#bdbdbd", "strokeWidth": 1.5},
  "encoding": {
   "x": {"field": "m", "type": "temporal", "scale": {"type": "utc", "domain": [{"year":2008,"month":10,"date":1,"utc":true},{"year":2010,"month":4,"date":28,"utc":true}]}, "axis": {"title": null}},
   "y": {"datum": 579200, "type": "quantitative", "scale": {"domain": [0, 600000], "nice": false}},
   "y2": {"datum": 608600}
  }},
 {"data": {"name": "quarters"},
  "mark": {"type": "text", "font": "Noto Sans CJK JP", "fontSize": 25, "baseline": "middle", "align": "center", "color": "#111111"},
  "encoding": {
   "x": {"field": "m", "type": "temporal", "scale": {"type": "utc", "domain": [{"year":2008,"month":10,"date":1,"utc":true},{"year":2010,"month":4,"date":28,"utc":true}]}, "axis": {"title": null}},
   "y": {"datum": 593500, "type": "quantitative", "scale": {"domain": [0, 600000], "nice": false}},
   "text": {"field": "q", "type": "nominal"}
  }}
]},
{"data": {"name": "main"},
 "mark": {"type": "line", "strokeWidth": 2.6},
 "encoding": {
  "x": {"field": "d", "type": "temporal", "scale": {"type": "utc", "domain": [{"year":2008,"month":10,"date":1,"utc":true},{"year":2010,"month":4,"date":28,"utc":true}]}, "axis": {"title": null}},
  "y": {"field": "u", "type": "quantitative", "scale": {"domain": [85, 112], "nice": false, "zero": false},
   "axis": {"orient": "right", "values": [85, 90, 95, 100, 105, 110], "title": null, "ticks": false, "domain": false, "grid": false,
    "labelPadding": 22, "labelAlign": "left", "labelFont": "DejaVu Serif", "labelFontSize": 21, "labelColor": "#0b3d0b", "labelOffset": -1, "labelFlush": false, "labelOverlap": false}},
  "color": {"datum": "USD/JPY", "type": "nominal"}
 }},
{"layer": [
 {"data": {"name": "main"},
  "mark": {"type": "line", "strokeWidth": 2.6},
  "encoding": {
   "x": {"field": "d", "type": "temporal", "scale": {"type": "utc", "domain": [{"year":2008,"month":10,"date":1,"utc":true},{"year":2010,"month":4,"date":28,"utc":true}]}, "axis": {"title": null}},
   "y": {"field": "r", "type": "quantitative", "scale": {"domain": [0, 70], "nice": false},
    "axis": {"orient": "right", "values": [10, 20, 30, 40, 50, 60, 70], "title": "（%）（円/1$）", "titleAngle": 0, "titleX": 32, "titleY": -42, "titleAlign": "center", "titleBaseline": "middle", "titleFont": "Noto Sans CJK JP", "titleFontSize": 18.5, "titleFontWeight": "normal", "titleColor": "#000000",
     "tickSize": -10, "tickWidth": 2.5, "tickColor": "#a0a0a0", "labelPadding": 36, "labelAlign": "left", "labelFont": "DejaVu Serif", "labelFontSize": 21, "labelColor": "#8b1010", "labelOffset": -7, "labelFlush": false, "labelOverlap": false,
     "domainColor": "#a0a0a0", "domainWidth": 3, "grid": false}},
   "color": {"datum": "ボラティリティ", "type": "nominal"}
  }},
 {"data": {"name": "trend"},
  "mark": {"type": "line", "color": "#ff6a00", "strokeWidth": 5.5},
  "encoding": {
   "x": {"field": "d", "type": "temporal", "scale": {"type": "utc", "domain": [{"year":2008,"month":10,"date":1,"utc":true},{"year":2010,"month":4,"date":28,"utc":true}]}, "axis": {"title": null}},
   "y": {"field": "r", "type": "quantitative"}
  }}
]}
],
"resolve": {"scale": {"y": "independent"}, "axis": {"y": "independent"}}
}
